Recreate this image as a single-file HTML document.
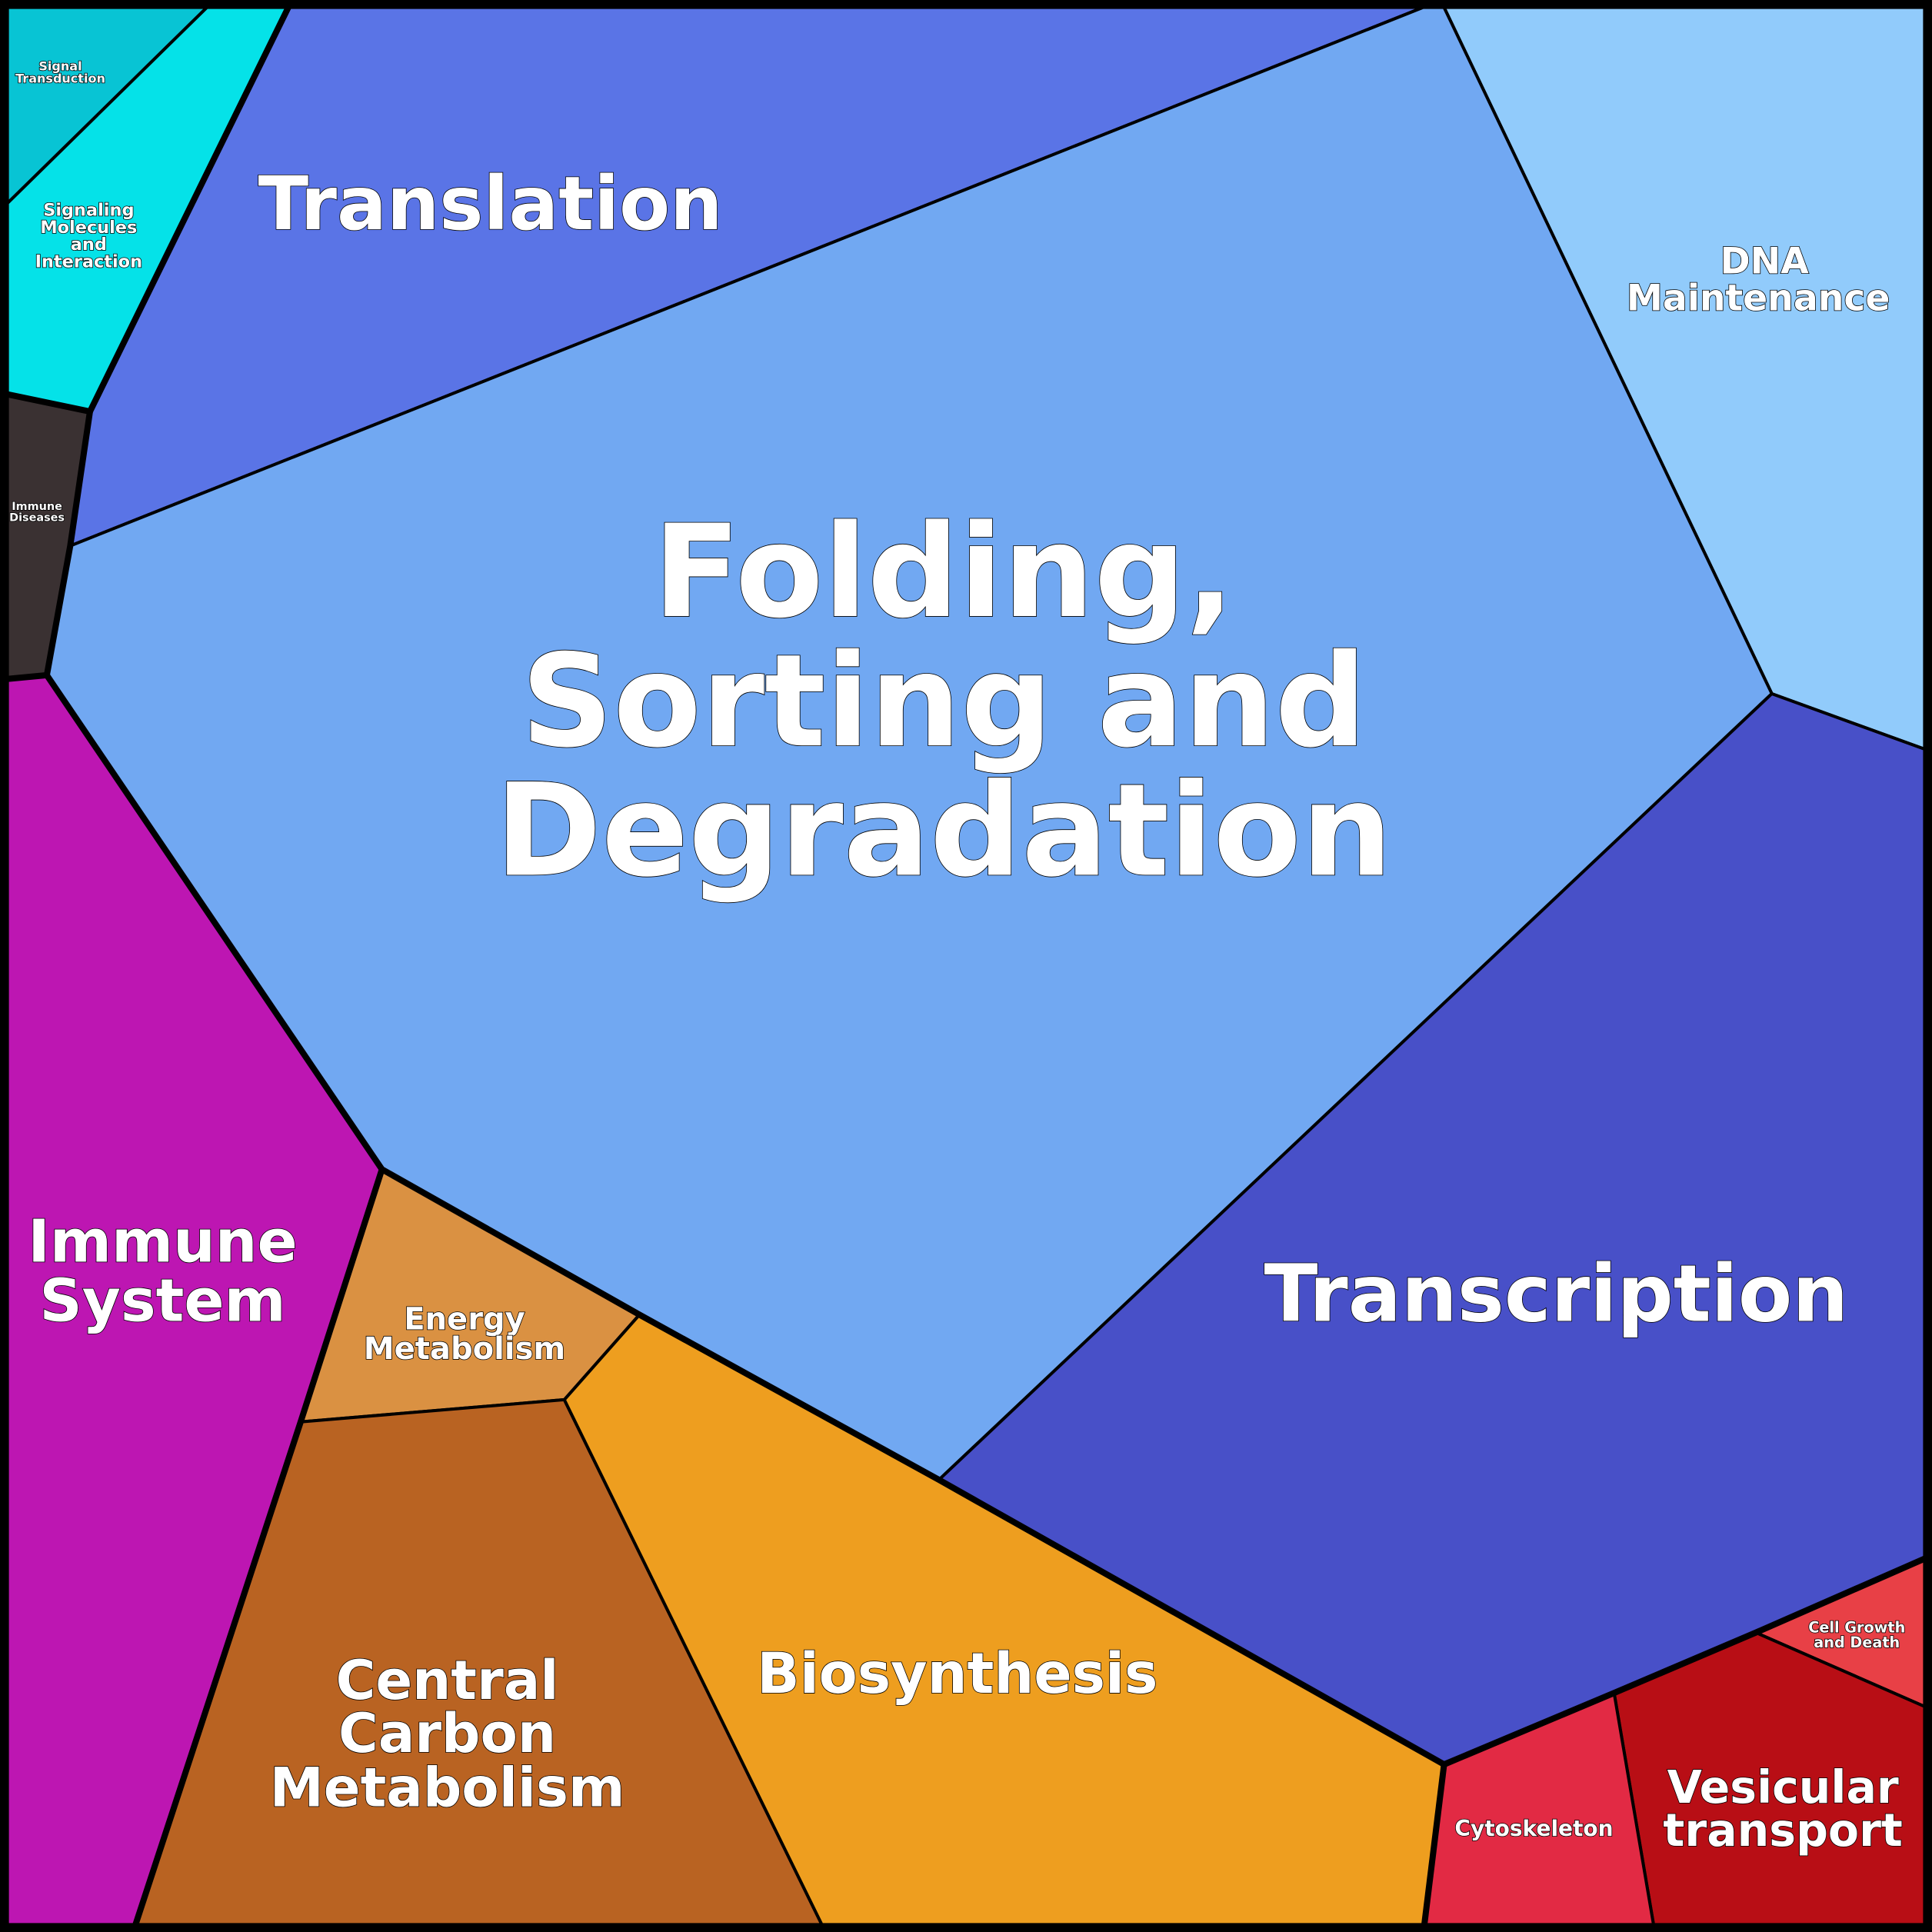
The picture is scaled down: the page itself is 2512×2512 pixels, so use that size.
<!DOCTYPE html>
<html><head><meta charset="utf-8"><style>
html,body{margin:0;padding:0;background:#000}
svg{display:block}
text{font-family:"DejaVu Sans","Liberation Sans",sans-serif;font-weight:bold;fill:#fff;stroke:#000;stroke-width:1;paint-order:stroke;text-anchor:middle}
</style></head><body>
<svg width="2512" height="2512" viewBox="0 0 1568 1568" xmlns="http://www.w3.org/2000/svg">
<rect x="0" y="0" width="1568" height="1568" fill="#000"/>
<g stroke="#000" stroke-width="2.5" stroke-linejoin="round">
<polygon fill="#08c4d4" points="6,6 168,6 6,165"/>
<polygon fill="#05e2e8" points="168,6 234,6 73,334 6,320 6,165"/>
<polygon fill="#5a74e6" points="234,6 1155,6 57,443 73,334"/>
<polygon fill="#91cbfb" points="1172,6 1562,6 1562,608 1438,563"/>
<polygon fill="#71a8f2" points="1155,6 1172,6 1438,563 762,1201 519,1067 310,949 38,548 57,443"/>
<polygon fill="#3a3132" points="6,320 73,334 57,443 38,548 6,551"/>
<polygon fill="#bd16b2" points="6,551 38,548 310,949 244,1154 110,1562 6,1562"/>
<polygon fill="#da9142" points="310,949 519,1067 458,1136 244,1154"/>
<polygon fill="#b96322" points="244,1154 458,1136 667,1562 110,1562"/>
<polygon fill="#ee9e1f" points="458,1136 519,1067 762,1201 1172,1432 1156,1562 667,1562"/>
<polygon fill="#4850c8" points="1438,563 1562,608 1562,1265 1425,1325 1310,1374 1172,1432 762,1201"/>
<polygon fill="#e84046" points="1562,1265 1562,1385 1425,1325"/>
<polygon fill="#b80e15" points="1425,1325 1562,1385 1562,1562 1342,1562 1310,1374"/>
<polygon fill="#e22a44" points="1172,1432 1310,1374 1342,1562 1156,1562"/>
</g>
<g fill="none" stroke="#000" stroke-width="5" stroke-linejoin="round">
<polyline points="6,551 38,548 310,949 519,1067 762,1201 1172,1432 1310,1374 1425,1325 1562,1265"/>
<polyline points="310,949 244,1154 110,1562"/>
<polyline points="6,320 73,334 234,6"/>
<polyline points="73,334 57,443 38,548"/>
<polyline points="1172,1432 1156,1562"/>
</g>
<rect x="3" y="3" width="1562" height="1562" fill="none" stroke="#000" stroke-width="7"/>
<text x="766" y="500" font-size="104" stroke-width="1.5">Folding,</text>
<text x="766" y="605" font-size="104" stroke-width="1.5">Sorting and</text>
<text x="766" y="710" font-size="104" stroke-width="1.5">Degradation</text>
<text x="398" y="186" font-size="60">Translation</text>
<text x="1263" y="1072" font-size="64">Transcription</text>
<text x="132" y="1024" font-size="48">Immune</text>
<text x="132" y="1072" font-size="48">System</text>
<text x="363" y="1379" font-size="44">Central</text>
<text x="363" y="1422" font-size="44">Carbon</text>
<text x="363" y="1466" font-size="44">Metabolism</text>
<text x="777" y="1374" font-size="45.5">Biosynthesis</text>
<text x="1447" y="1463" font-size="36.5">Vesicular</text>
<text x="1447" y="1498" font-size="36.5">transport</text>
<text x="1432" y="222" font-size="29.5">DNA</text>
<text x="1427" y="252" font-size="29.5">Maintenance</text>
<text x="377" y="1079" font-size="25">Energy</text>
<text x="377" y="1103" font-size="25">Metabolism</text>
<text x="1245" y="1490" font-size="17.5" stroke-width="0.6">Cytoskeleton</text>
<text x="72" y="175" font-size="14" stroke-width="0.5">Signaling</text>
<text x="72" y="189" font-size="14" stroke-width="0.5">Molecules</text>
<text x="72" y="203" font-size="14" stroke-width="0.5">and</text>
<text x="72" y="217" font-size="14" stroke-width="0.5">Interaction</text>
<text x="1507" y="1325" font-size="12" stroke-width="0.4">Cell Growth</text>
<text x="1507" y="1337" font-size="12" stroke-width="0.4">and Death</text>
<text x="49" y="57" font-size="10" stroke-width="0.3">Signal</text>
<text x="49" y="67" font-size="10" stroke-width="0.3">Transduction</text>
<text x="30" y="414" font-size="9" stroke-width="0.3">Immune</text>
<text x="30" y="423" font-size="9" stroke-width="0.3">Diseases</text>
</svg>
</body></html>
